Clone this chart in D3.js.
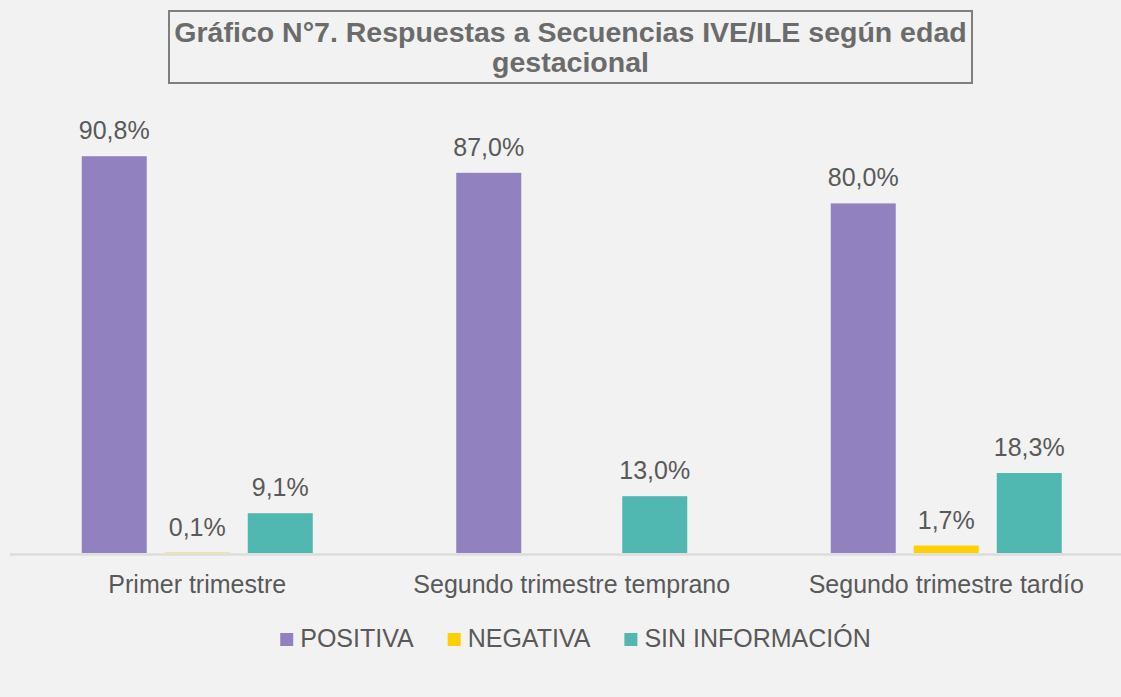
<!DOCTYPE html>
<html>
<head>
<meta charset="utf-8">
<script src="https://cdn.jsdelivr.net/npm/d3@7"></script>
<style>
  html, body { margin: 0; padding: 0; background: #f2f2f2; }
  svg { display: block; font-family: "Liberation Sans", Arial, sans-serif; }
</style>
</head>
<body>
<div id="chart"></div>
<script>
const categories = ["Primer trimestre", "Segundo trimestre temprano", "Segundo trimestre tardío"];
const seriesNames = ["POSITIVA", "NEGATIVA", "SIN INFORMACIÓN"];
const positiva = [90.8, 87.0, 80.0];
const negativa = [0.1, null, 1.7];
const sinInformacion = [9.1, 13.0, 18.3];
const titleLines = ["Gráfico N°7. Respuestas a Secuencias IVE/ILE según edad", "gestacional"];

(function () {
  const width = 1121, height = 697;
  const colors = ["#9182bf", "#ffd000", "#50b8b0"];
  const textColor = "#595959";
  const values = [positiva, negativa, sinInformacion];

  const svg = d3.select("#chart").append("svg")
    .attr("width", width).attr("height", height);

  svg.append("rect").attr("width", width).attr("height", height).attr("fill", "#f2f2f2");

  // Title box
  svg.append("rect")
    .attr("x", 169).attr("y", 11).attr("width", 803).attr("height", 72)
    .attr("fill", "none").attr("stroke", "#7f7f7f").attr("stroke-width", 2);

  svg.selectAll("text.title").data(titleLines).join("text")
    .attr("class", "title")
    .attr("x", 570.5).attr("y", (d, i) => 42 + i * 29.5)
    .attr("text-anchor", "middle")
    .attr("font-size", 28.5).attr("font-weight", "bold")
    .attr("fill", "#6b6b6b")
    .text(d => d);

  const baseY = 553;
  const y = d3.scaleLinear().domain([0, 100]).range([baseY, 116]);
  const x0 = d3.scaleBand().domain(categories).range([10, 1133.5]).padding(0);
  const x1 = d3.scaleBand().domain(seriesNames).range([71.75, 302.75]).paddingInner(0.217).paddingOuter(0);

  const locale = d3.formatLocale({ decimal: ",", thousands: ".", grouping: [3], currency: ["", ""] });
  const fmt = v => locale.format(".1f")(v) + "%";

  const rows = [];
  categories.forEach((c, i) => {
    seriesNames.forEach((s, j) => {
      if (values[j][i] != null) rows.push({ cat: c, series: s, value: values[j][i], color: colors[j] });
    });
  });

  // Bars
  svg.selectAll("rect.bar").data(rows).join("rect")
    .attr("class", "bar")
    .attr("x", d => x0(d.cat) + x1(d.series))
    .attr("y", d => y(d.value))
    .attr("width", x1.bandwidth())
    .attr("height", d => baseY - y(d.value))
    .attr("fill", d => d.color);

  // Axis line
  svg.append("line")
    .attr("x1", 10).attr("x2", width)
    .attr("y1", baseY + 1.5).attr("y2", baseY + 1.5)
    .attr("stroke", "#dcdcdc").attr("stroke-width", 2.5);

  // Value labels
  svg.selectAll("text.value").data(rows).join("text")
    .attr("class", "value")
    .attr("x", d => x0(d.cat) + x1(d.series) + x1.bandwidth() / 2)
    .attr("y", d => y(d.value) - 17)
    .attr("text-anchor", "middle")
    .attr("font-size", 25)
    .attr("fill", textColor)
    .text(d => fmt(d.value));

  // Category labels
  svg.selectAll("text.cat").data(categories).join("text")
    .attr("class", "cat")
    .attr("x", d => x0(d) + 71.75 + 115.5)
    .attr("y", 593)
    .attr("text-anchor", "middle")
    .attr("font-size", 25)
    .attr("fill", textColor)
    .text(d => d);

  // Legend
  const legend = svg.append("g");
  const gap = 34;
  let lx = 0;
  seriesNames.forEach((s, j) => {
    const g = legend.append("g").attr("transform", `translate(${lx},0)`);
    g.append("rect").attr("x", 0).attr("y", -14).attr("width", 13).attr("height", 13).attr("fill", colors[j]);
    const t = g.append("text").attr("x", 20).attr("y", 0)
      .attr("font-size", 25).attr("fill", textColor).text(s);
    lx += 20 + t.node().getComputedTextLength() + gap;
  });
  const legendW = lx - gap;
  legend.attr("transform", `translate(${575.5 - legendW / 2},647)`);
})();
</script>
</body>
</html>
